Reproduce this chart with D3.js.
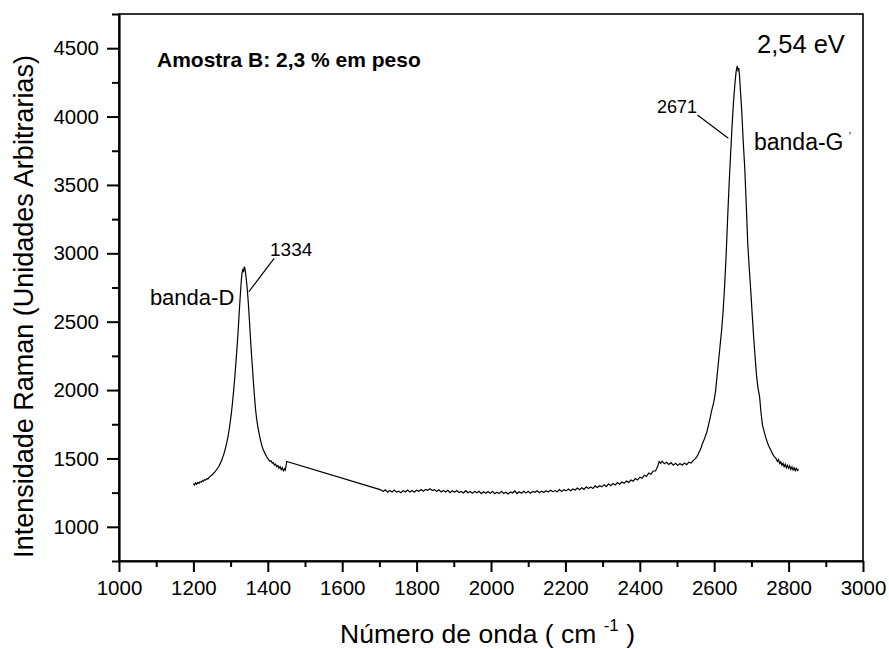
<!DOCTYPE html>
<html>
<head>
<meta charset="utf-8">
<script src="https://cdn.jsdelivr.net/npm/d3@7"></script>
<style>
  html, body { margin: 0; padding: 0; background: #fff; }
  svg text { font-family: "Liberation Sans", Arial, sans-serif; fill: #000; }
</style>
</head>
<body>
<svg id="chart" width="889" height="649"></svg>
<script>
// ---- data ----
const xTicks = [1000, 1200, 1400, 1600, 1800, 2000, 2200, 2400, 2600, 2800, 3000];
const yTicks = [1000, 1500, 2000, 2500, 3000, 3500, 4000, 4500];
const xDomain = [1000, 3000];
const yDomain = [750, 4750];

// D-band region
const waveD = [1200,1203,1206,1209,1212,1215,1218,1221,1224,1227,1230,1233,1236,1239,1242,1245,1248,1251,1254,1257,1260,1263,1266,1269,1272,1275,1278,1281,1284,1287,1290,1293,1296,1299,1302,1305,1308,1311,1314,1317,1320,1323,1326,1329,1331,1333,1335,1337,1339,1341,1343,1345,1347,1349,1351,1353,1355,1358,1361,1364,1367,1370,1373,1376,1379,1382,1385,1388,1391,1394,1397,1400,1403,1406,1409,1412,1415,1418,1421,1424,1427,1430,1433,1436,1439,1442,1445,1447,1449,1451];
const intD = [1315,1305,1322,1312,1325,1318,1330,1326,1338,1333,1345,1342,1352,1350,1362,1368,1376,1380,1392,1398,1410,1420,1432,1445,1462,1480,1502,1525,1552,1585,1620,1660,1708,1765,1830,1905,1990,2085,2190,2300,2420,2560,2690,2810,2860,2880,2870,2902,2880,2840,2790,2730,2660,2580,2490,2400,2310,2190,2070,1960,1860,1790,1735,1690,1650,1615,1585,1562,1545,1528,1512,1498,1490,1478,1482,1465,1470,1452,1458,1440,1448,1428,1440,1418,1432,1410,1425,1415,1445,1478];

// baseline region (after the gap)
const waveB = [1702,1710,1716,1722,1728,1734,1740,1746,1752,1758,1764,1770,1776,1782,1788,1794,1800,1806,1812,1818,1824,1830,1836,1842,1848,1854,1860,1866,1872,1878,1884,1890,1896,1902,1908,1914,1920,1926,1932,1938,1944,1950,1956,1962,1968,1974,1980,1986,1992,1998,2004,2010,2016,2022,2028,2034,2040,2046,2052,2058,2064,2070,2076,2082,2088,2094,2100,2106,2112,2118,2124,2130,2136,2142,2148,2154,2160,2166,2172,2178,2184,2190,2196,2202,2208,2214,2220,2226,2232,2238,2244,2250,2256,2262,2268,2274,2280,2286,2292,2298,2304,2310,2316,2322,2328,2334,2340,2346,2352,2358,2364,2370,2376,2382,2388,2394,2400,2406,2412,2418,2424,2430,2436,2442,2448,2452,2456,2460,2466,2472,2478,2484,2490,2496,2502,2508,2514,2520,2526,2532,2538,2544,2550];
const intB = [1272,1258,1270,1253,1265,1254,1269,1254,1260,1249,1265,1255,1269,1254,1265,1253,1268,1260,1272,1260,1274,1267,1279,1265,1272,1258,1270,1255,1266,1255,1267,1250,1263,1253,1265,1250,1259,1247,1264,1249,1258,1246,1259,1249,1260,1243,1256,1245,1258,1246,1259,1242,1253,1243,1259,1244,1253,1240,1255,1247,1262,1243,1256,1245,1260,1248,1260,1245,1259,1252,1264,1250,1261,1251,1264,1254,1268,1257,1265,1256,1272,1259,1272,1263,1276,1264,1277,1269,1284,1272,1286,1274,1292,1280,1292,1281,1299,1287,1300,1292,1308,1294,1314,1300,1316,1306,1324,1311,1327,1318,1335,1325,1342,1334,1353,1342,1363,1355,1377,1368,1394,1385,1408,1408,1440,1477,1464,1480,1461,1472,1456,1469,1451,1464,1448,1462,1450,1466,1455,1473,1467,1486,1500];

// G' band region
const waveG = [2553,2556,2559,2562,2565,2568,2571,2574,2577,2580,2583,2586,2589,2592,2595,2598,2601,2604,2608,2612,2616,2620,2624,2628,2632,2636,2640,2644,2648,2652,2656,2659,2662,2664,2666,2668,2671,2674,2678,2682,2686,2690,2694,2698,2702,2706,2710,2714,2718,2722,2726,2730,2734,2738,2742,2746,2750,2754,2758,2762,2766,2770,2773,2776,2779,2782,2785,2788,2791,2794,2797,2800,2803,2806,2809,2812,2815,2818,2821,2824,2827];
const intG = [1512,1525,1545,1560,1580,1605,1625,1645,1670,1690,1725,1760,1795,1835,1870,1900,1945,2000,2110,2220,2330,2440,2580,2760,2980,3250,3500,3720,3930,4110,4250,4330,4370,4340,4355,4300,4170,4040,3820,3630,3370,3080,2900,2740,2560,2390,2240,2100,2010,1950,1830,1740,1700,1660,1625,1595,1572,1550,1528,1512,1500,1478,1492,1462,1475,1450,1465,1440,1458,1432,1450,1428,1445,1420,1438,1415,1432,1410,1428,1412,1420];

// annotations
const annoTexts = [
  { text: "1334", x: 1406, y: 2979, size: 19 },
  { text: "banda-D", x: 1083, y: 2622, size: 22 },
  { text: "2671", x: 2446, y: 4024, size: 18 },
  { text: "banda-G", x: 2707, y: 3755, size: 23 },
  { text: "2,54 eV", x: 2715, y: 4465, size: 25.5 }
];
const annoLines = [
  { x1: 1417, y1: 2963, x2: 1349, y2: 2719 },
  { x1: 2555, y1: 4011, x2: 2638, y2: 3841 }
];

// ---- layout ----
const svg = d3.select("#chart");
const L = 119, T = 14, R = 863, B = 561;
const x = d3.scaleLinear().domain(xDomain).range([L, R]);
const y = d3.scaleLinear().domain(yDomain).range([B, T]);

// spectrum
const pts = [];
waveD.forEach((w, i) => pts.push([w, intD[i]]));
waveB.forEach((w, i) => pts.push([w, intB[i]]));
waveG.forEach((w, i) => pts.push([w, intG[i]]));
const line = d3.line().x(d => x(d[0])).y(d => y(d[1]));
svg.append("path").datum(pts)
  .attr("d", line).attr("fill", "none")
  .attr("stroke", "#000").attr("stroke-width", 1.2);

// frame
svg.append("rect").attr("x", L).attr("y", T).attr("width", R - L).attr("height", B - T)
  .attr("fill", "none").attr("stroke", "#000").attr("stroke-width", 1.6);

// x axis
const xMinor = d3.range(1000, 3001, 100).filter(v => v % 200 !== 0);
svg.append("g").attr("transform", `translate(0,${B})`)
  .call(d3.axisBottom(x).tickValues(xTicks).tickSize(11).tickSizeOuter(0).tickPadding(8).tickFormat(d3.format("d")));
svg.append("g").attr("transform", `translate(0,${B})`)
  .call(d3.axisBottom(x).tickValues(xMinor).tickSize(6).tickSizeOuter(0).tickFormat(""))
  .select(".domain").remove();
// y axis
const yMinor = d3.range(750, 4751, 250).filter(v => v % 500 !== 0);
svg.append("g").attr("transform", `translate(${L},0)`)
  .call(d3.axisLeft(y).tickValues(yTicks).tickSize(12).tickSizeOuter(0).tickPadding(8).tickFormat(d3.format("d")));
svg.append("g").attr("transform", `translate(${L},0)`)
  .call(d3.axisLeft(y).tickValues(yMinor).tickSize(7).tickSizeOuter(0).tickFormat(""))
  .select(".domain").remove();

svg.selectAll(".domain").attr("stroke-width", 2.2);
svg.selectAll(".tick line").attr("stroke-width", 2);
svg.selectAll(".tick text").attr("font-size", 20.5).attr("font-family", "Liberation Sans, Arial, sans-serif");

// axis titles
svg.append("text")
  .attr("transform", `translate(33,${(50 + 563) / 2}) rotate(-90)`)
  .attr("text-anchor", "middle").attr("font-size", 27)
  .text("Intensidade Raman (Unidades Arbitrarias)");

const xt = svg.append("text").attr("x", 340).attr("y", 643).attr("font-size", 26.5);
xt.append("tspan").text("Número de onda ( cm ");
xt.append("tspan").attr("font-size", 17).attr("dy", -12).text("-1");
xt.append("tspan").attr("dy", 12).text(" )");

// header label
svg.append("text").attr("x", 157).attr("y", 67)
  .attr("font-size", 21).attr("font-weight", "bold")
  .text("Amostra B: 2,3 % em peso");

// annotations
annoTexts.forEach(a => {
  svg.append("text").attr("x", x(a.x)).attr("y", y(a.y))
    .attr("font-size", a.size).text(a.text);
});
// prime on banda-G
svg.append("text").attr("x", 849).attr("y", 140).attr("font-size", 10).text("'");
annoLines.forEach(l => {
  svg.append("line")
    .attr("x1", x(l.x1)).attr("y1", y(l.y1))
    .attr("x2", x(l.x2)).attr("y2", y(l.y2))
    .attr("stroke", "#000").attr("stroke-width", 1.2);
});
</script>
</body>
</html>
